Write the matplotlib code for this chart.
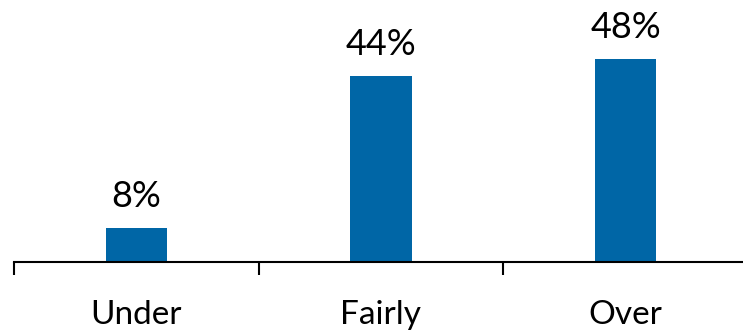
import matplotlib.pyplot as plt

categories = ['Under', 'Fairly', 'Over']
values = [8, 44, 48]
value_labels = ['8%', '44%', '48%']

plt.rcParams['font.family'] = ['Lato', 'DejaVu Sans']

fig = plt.figure(figsize=(7.43, 3.36), dpi=100)
ax = fig.add_axes([14 / 743, 74 / 336, 1 - 14 / 743, 262 / 336])

x = range(len(categories))
bars = ax.bar(x, values, width=0.25, color='#0066a6')

for bar, label in zip(bars, value_labels):
    ax.annotate(label, (bar.get_x() + bar.get_width() / 2, bar.get_height()),
                xytext=(0, 15.5), textcoords='offset points',
                ha='center', va='baseline', fontsize=26)

ax.set_xlim(-0.5, 2.48)
ax.set_ylim(0, 62)

# labels sit at the bar centres, tick marks at the category boundaries
ax.set_xticks(list(x))
ax.set_xticklabels(categories, fontsize=24)
ax.set_xticks([-0.5, 0.5, 1.5], minor=True)
ax.tick_params(axis='x', which='major', length=0, pad=27)
ax.tick_params(axis='x', which='minor', length=9.5, width=1.5, color='black')

for side in ['top', 'right', 'left']:
    ax.spines[side].set_visible(False)
ax.spines['bottom'].set_linewidth(1.5)
ax.set_yticks([])

fig.savefig('out.png', dpi=100)
